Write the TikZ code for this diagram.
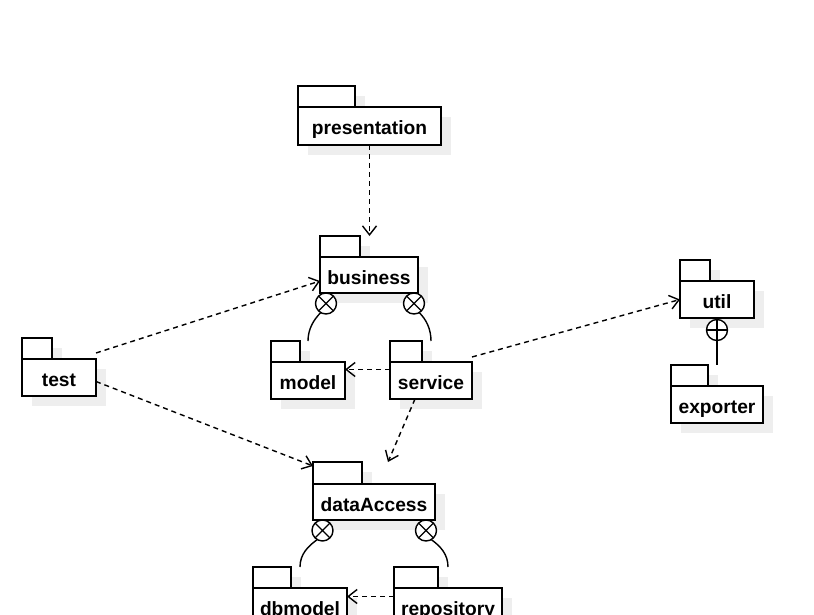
\documentclass[tikz,border=0pt]{standalone}
\usepackage{fontspec}
\setmainfont{Liberation Sans}
\usetikzlibrary{arrows.meta,shadows,calc}
\definecolor{shadowgray}{RGB}{238,238,238}
\tikzset{
  pkgshadow/.style={general shadow={fill=shadowgray, shadow xshift=10pt, shadow yshift=-10pt}},
  pkgtab/.style={draw, fill=white, line width=1.6pt, minimum width=#1, minimum height=21pt,
    inner sep=0pt, outer sep=0pt, anchor=south west, pkgshadow},
  pkgbody/.style={draw, fill=white, line width=1.6pt, minimum width=#1, minimum height=37pt,
    inner sep=0pt, outer sep=0pt, anchor=north west, pkgshadow,
    text height=18pt, text depth=0pt,
    font=\fontsize{19.2}{23}\selectfont\bfseries},
  dep/.style={line width=1.4pt, dash pattern=on 5pt off 4pt,
    -{Straight Barb[length=9pt,width=14pt,line width=1.4pt]}},
  nestmark/.style={circle, draw, fill=white, line width=1.4pt, minimum size=21pt, inner sep=0pt, outer sep=0pt},
  nestline/.style={line width=1.4pt}
}
\begin{document}
\begin{tikzpicture}[x=1pt,y=-1pt]
\useasboundingbox (0,0) rectangle (814,615);
\clip (0,0) rectangle (814,615);
\fill[white] (0,0) rectangle (814,615);

% packages: tab first, then body
\node[pkgtab=57pt] (prestab) at (298,107) {};
\node[pkgbody=143pt, minimum height=38pt] (presbody) at (298,107) {presentation};

\node[pkgtab=40pt] (bustab) at (320,257) {};
\node[pkgbody=98pt, minimum height=36pt] (busbody) at (320,257) {business};

\node[pkgtab=29pt] (modeltab) at (271,362) {};
\node[pkgbody=74pt] (modelbody) at (271,362) {model};

\node[pkgtab=32pt] (servtab) at (390,362) {};
\node[pkgbody=82pt] (servbody) at (390,362) {service};

\node[pkgtab=30pt] (testtab) at (22,359) {};
\node[pkgbody=74pt] (testbody) at (22,359) {test};

\node[pkgtab=30pt] (utiltab) at (680,281) {};
\node[pkgbody=74pt] (utilbody) at (680,281) {util};

\node[pkgtab=37pt] (extab) at (671,386) {};
\node[pkgbody=92pt] (exbody) at (671,386) {exporter};

\node[pkgtab=49pt, minimum height=22pt] (datatab) at (313,484) {};
\node[pkgbody=122pt, minimum height=36pt] (databody) at (313,484) {dataAccess};

\node[pkgtab=38pt] (dbtab) at (253,588) {};
\node[pkgbody=94pt] (dbbody) at (253,588) {dbmodel};

\node[pkgtab=44pt] (repotab) at (394,588) {};
\node[pkgbody=108pt] (repobody) at (394,588) {repository};

% nesting markers
\node[nestmark] (bc1) at (326,303.5) {};
\node[nestmark] (bc2) at (414,303.5) {};
\node[nestmark] (dc1) at (322.5,530.5) {};
\node[nestmark] (dc2) at (426,530.5) {};
\node[nestmark] (uc) at (717,330) {};

\foreach \c in {bc1,bc2,dc1,dc2}{
  \draw[nestline] (\c.45) -- (\c.225) (\c.135) -- (\c.315);
}
\draw[nestline] (uc.north) -- (uc.south) (uc.east) -- (uc.west);

\draw[nestline] (bc1.240) .. controls +(-7,7) and +(0,-12) .. (modelbody.north |- modeltab.north);
\draw[nestline] (bc2.300) .. controls +(7,7) and +(0,-12) .. (servbody.north |- servtab.north);
\draw[nestline] (dc1.240) .. controls +(-9,6.5) and +(0,-13) .. (dbbody.north |- dbtab.north);
\draw[nestline] (dc2.300) .. controls +(9,6.5) and +(0,-13) .. (repobody.north |- repotab.north);
\draw[nestline] (uc.south) -- (uc.south |- extab.north);

% dependencies
\draw[dep] (presbody.south) -- (presbody.south |- bustab.north);
\draw[dep] ($(testbody.north east)+(0,-6)$) -- ($(busbody.west)+(0,6)$);
\draw[dep] ($(testbody.east)+(0,4)$) -- ($(datatab.north west)+(0,4)$);
\draw[dep] ($(servbody.west)+(0,-11)$) -- ($(modelbody.east)+(0,-11)$);
\draw[dep] ($(servbody.north east)+(0,-5)$) -- (utilbody.west);
\draw[dep] ($(servbody.south)+(-16,0)$) -- ($(databody.north |- datatab.north)+(14,0)$);
\draw[dep] ($(repobody.west)+(0,-10)$) -- ($(dbbody.east)+(0,-10)$);
\end{tikzpicture}
\end{document}
